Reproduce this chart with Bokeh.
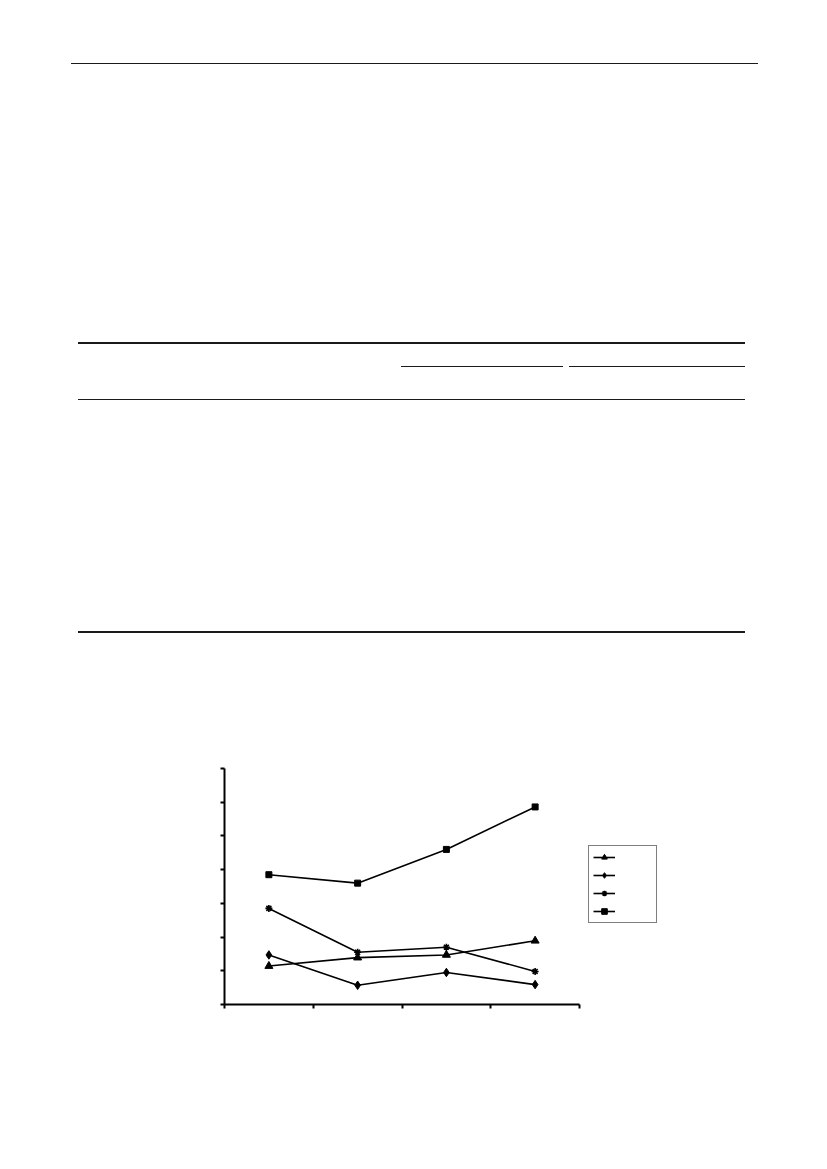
from bokeh.plotting import figure
from bokeh.models import (Div, Range1d, FixedTicker, CustomJSTickFormatter,
                          Legend, LegendItem)
from bokeh.layouts import column
from bokeh.embed import file_html
from bokeh.resources import INLINE

# ---- data (units = y-axis tick steps) ----
categories = ["1", "2", "3", "4"]
series_triangle = [1.14, 1.39, 1.47, 1.89]
series_diamond = [1.47, 0.57, 0.95, 0.59]
series_star = [2.85, 1.55, 1.70, 0.98]
series_square = [3.85, 3.60, 4.60, 5.86]
y_ticks = [0, 1, 2, 3, 4, 5, 6, 7]

x = list(range(len(categories)))
x_bounds = [i - 0.5 for i in range(len(categories) + 1)]

# ---- page rules (header and table lines) ----
def rule(left, top, width, height):
    return (f'<div style="position:absolute;left:{left}px;top:{top}px;'
            f'width:{width}px;height:{height}px;background:#1a1a1a"></div>')

rules = [
    rule(66, 57.5, 687, 1),      # page header
    rule(73, 337, 667, 2),       # table top
    rule(396, 360.5, 162, 1),    # group rule 1
    rule(564, 360.5, 176, 1),    # group rule 2
    rule(73, 394, 667, 1.3),     # header bottom
    rule(73, 625.5, 667, 2),     # table bottom
]
div = Div(text='<div style="position:relative;width:811px;height:700px">'
          + "".join(rules) + "</div>", width=811, height=700)

# ---- chart ----
FIG_W, FIG_H = 811, 340
LEFT, AXIS_W, EXTRA_W = 224, 355, 110     # frame extends past the axis end for the legend
px_per_unit = AXIS_W / (x_bounds[-1] - x_bounds[0])
x_end = x_bounds[-1] + EXTRA_W / px_per_unit

p = figure(width=FIG_W, height=FIG_H, output_backend="svg", toolbar_location=None,
           x_range=Range1d(x_bounds[0], x_end),
           y_range=Range1d(y_ticks[0], y_ticks[-1]),
           min_border_left=LEFT, min_border_right=FIG_W - LEFT - AXIS_W - EXTRA_W,
           min_border_top=58, min_border_bottom=46)
p.outline_line_color = None
p.xgrid.visible = False
p.ygrid.visible = False
p.background_fill_color = "white"
p.border_fill_color = "white"

blank = CustomJSTickFormatter(code="return ''")
for ax in (p.xaxis[0], p.yaxis[0]):
    ax.formatter = blank
    ax.axis_line_width = 2
    ax.axis_line_color = "black"
    ax.major_tick_line_width = 2
    ax.major_tick_line_color = "black"
    ax.major_tick_in = 0
    ax.major_tick_out = 4
    ax.minor_tick_line_color = None
    ax.major_label_standoff = 0
p.xaxis.ticker = FixedTicker(ticks=x_bounds)
p.xaxis.bounds = (x_bounds[0], x_bounds[-1])
p.yaxis.ticker = FixedTicker(ticks=y_ticks)

items = []
specs = [
    (series_triangle, "triangle", 8),
    (series_diamond, "diamond", 8.5),
    (series_star, "asterisk", 7),
    (series_square, "square", 6),
]
for vals, marker, size in specs:
    lr = p.line(x, vals, line_color="black", line_width=1.6)
    sr = p.scatter(x, vals, marker=marker, size=size,
                   line_color="black", fill_color="black",
                   line_width=1.6 if marker == "asterisk" else 1)
    items.append(LegendItem(label=" ", renderers=[lr, sr]))

legend = Legend(items=items, location=(364, 81), padding=4,
                spacing=4, glyph_height=14, glyph_width=22, label_width=32,
                label_standoff=5, border_line_color="black", border_line_width=1,
                background_fill_color="white", background_fill_alpha=1,
                label_text_font_size="8pt", margin=0)
p.add_layout(legend)

layout = column(div, p, spacing=0)
open("out.html", "w").write(file_html(layout, INLINE))
